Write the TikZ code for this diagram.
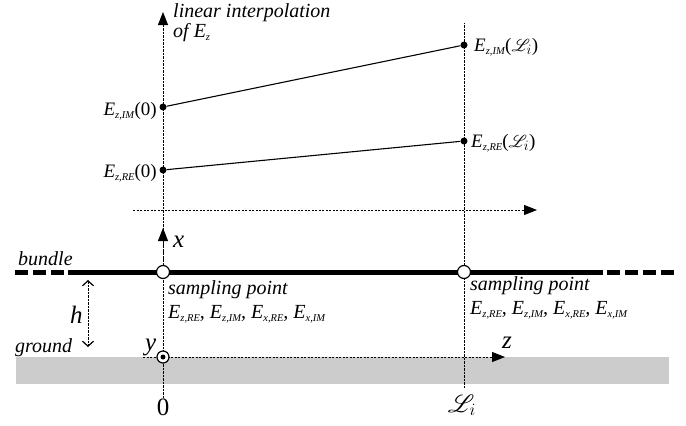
\documentclass[tikz,border=0pt]{standalone}
\usepackage{fontspec}
\setmainfont{Liberation Serif}
\usepackage{mathrsfs}
\usetikzlibrary{arrows.meta}
\newcommand\Esub[1]{\textit{E}\raisebox{-0.35ex}{\fontsize{10.5}{11}\selectfont\textit{#1}}}
\begin{document}
\begin{tikzpicture}[x=1pt,y=-1pt,
  axis/.style={dash pattern=on 2.2pt off 1.3pt, line width=0.9pt},
  tipend/.style={-{Triangle[length=13pt,width=10pt]}},
  bundleline/.style={line width=5pt},
  bundledash/.style={line width=5pt, dash pattern=on 13pt off 5pt},
  dot/.style={circle, fill=black, inner sep=0pt, minimum size=7pt},
  sample/.style={circle, draw, fill=white, line width=1.2pt, inner sep=0pt, minimum size=13pt},
  big/.style={font=\fontsize{25}{28}\selectfont\itshape, inner sep=0pt},
  lbl/.style={font=\fontsize{20}{22}\selectfont\itshape, inner sep=0pt},
  eq/.style={font=\fontsize{19}{21}\selectfont, inner sep=0pt}]
\useasboundingbox (0,0) rectangle (686,426);
% ground
\fill[black!20] (16,357) rectangle (669,384);
% coordinates
\coordinate (lbot) at (163,398);
\coordinate (ltop) at (163,12);
\coordinate (rtop) at (464,23);
\coordinate (rbot) at (464,388);
\coordinate (hstart) at (133,210);
\coordinate (hend) at (537,210);
\coordinate (zstart) at (143,357);
\coordinate (zend) at (505,357);
\coordinate (xbase) at (163,262);
\coordinate (xtip) at (163,228);
\coordinate (htop) at (88,280);
\coordinate (hbot) at (88,347);
\coordinate (bl1) at (15,272);
\coordinate (bl2) at (68,272);
\coordinate (bm1) at (68,272);
\coordinate (bm2) at (603,272);
\coordinate (br1) at (607,272);
\coordinate (br2) at (675,272);
% axes
\draw[axis,tipend] (lbot) -- (ltop);
\draw[axis] (rbot) -- (rtop);
\draw[axis,tipend] (hstart) -- (hend);
\draw[axis,tipend] (zstart) -- (zend);
\draw[axis,tipend] (xbase) -- (xtip);
\draw[axis,{Straight Barb[length=5pt,width=11pt,line width=1.2pt]}-{Straight Barb[length=5pt,width=11pt,line width=1.2pt]}] (htop) -- (hbot);
% bundle
\draw[bundledash] (bl1) -- (bl2);
\draw[bundleline] (bm1) -- (bm2);
\draw[bundledash] (br1) -- (br2);
\node[sample] (s0) at (163,272) {};
\node[sample] (s1) at (464,272) {};
% y out-of-plane symbol
\node[circle, draw, fill=white, line width=1.2pt, inner sep=0pt, minimum size=12pt] (yax) at (163,357) {};
\node[circle, fill=black, inner sep=0pt, minimum size=5pt] (ydot) at (163,357) {};
% interpolation points
\node[dot] (im0) at (163,107) {};
\node[dot] (re0) at (163,170) {};
\node[dot] (imL) at (464,45) {};
\node[dot] (reL) at (464,141) {};
\draw[line width=1.1pt] (im0) -- (imL);
\draw[line width=1.1pt] (re0) -- (reL);
% labels
\node[lbl, anchor=base west] (t1) at (173,17) {linear interpolation};
\node[lbl, anchor=base west] (t2) at (173,37) {of \Esub{z}};
\node[eq, anchor=base east] (l1) at (157,115) {\Esub{z,IM}(0)};
\node[eq, anchor=base east] (l2) at (157,177) {\Esub{z,RE}(0)};
\node[eq, anchor=base west] (l3) at (474,51) {\Esub{z,IM}($\mathscr{L}_i$)};
\node[eq, anchor=base west] (l4) at (471,147) {\Esub{z,RE}($\mathscr{L}_i$)};
\node[lbl, anchor=base west] (bun) at (18,265) {bundle};
\node[lbl, anchor=base west] (gnd) at (15,352) {ground};
\node[big, anchor=base west] (hl) at (70,323) {h};
\node[big, anchor=base west] (yl) at (145,350) {y};
\node[big, anchor=base west] (xl) at (173,247) {x};
\node[big, anchor=base west] (zl) at (502,348) {z};
\node[big, font=\fontsize{25}{28}\selectfont, anchor=base] (zero) at (163,415) {0};
\node[big, font=\fontsize{25}{28}\selectfont, anchor=base] (li) at (462,412) {$\mathscr{L}_i$};
\node[lbl, anchor=base west] (sp0) at (168,294) {sampling point};
\node[lbl, anchor=base west] (e0) at (168,318) {\Esub{z,RE}, \Esub{z,IM}, \Esub{x,RE}, \Esub{x,IM}};
\node[lbl, anchor=base west] (sp1) at (470,290) {sampling point};
\node[lbl, anchor=base west] (e1) at (470,314) {\Esub{z,RE}, \Esub{z,IM}, \Esub{x,RE}, \Esub{x,IM}};
\end{tikzpicture}
\end{document}
